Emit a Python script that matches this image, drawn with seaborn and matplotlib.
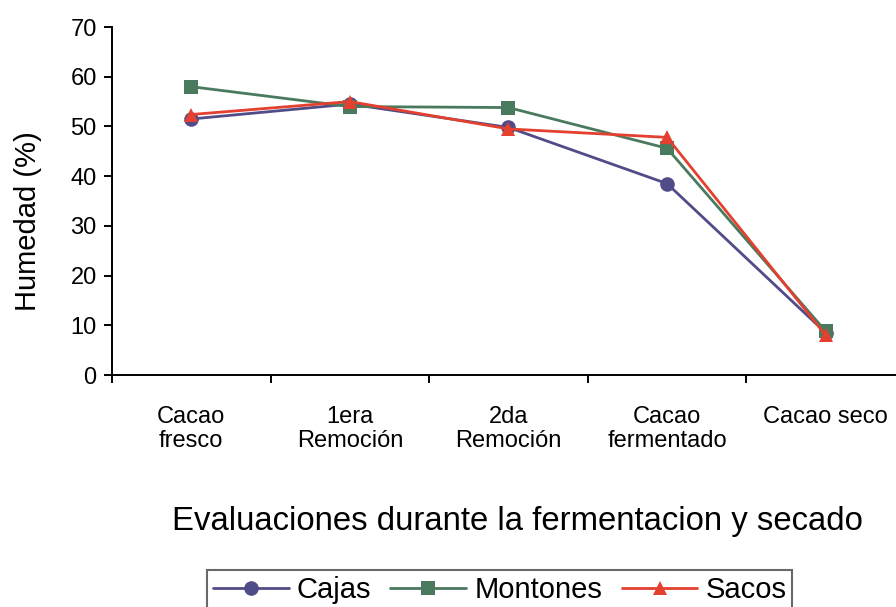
import pandas as pd
import seaborn as sns
import matplotlib.pyplot as plt
from matplotlib.ticker import FixedLocator

etapas = ['Cacao\nfresco', '1era\nRemoción', '2da\nRemoción', 'Cacao\nfermentado', 'Cacao seco']
cajas    = [51.5, 54.5, 49.8, 38.5, 8.5]
montones = [58.0, 54.0, 53.8, 45.6, 8.8]
sacos    = [52.4, 55.0, 49.5, 47.8, 8.0]
series   = ['Cajas', 'Montones', 'Sacos']
colores  = ['#504c88', '#4a7a5e', '#e3402f']

df = pd.DataFrame({
    'etapa': etapas * 3,
    'humedad': cajas + montones + sacos,
    'tratamiento': [s for s in series for _ in etapas],
})

sns.set_style('white')
plt.rcParams['font.family'] = ['Liberation Sans', 'DejaVu Sans']
plt.rcParams['text.color'] = 'black'
plt.rcParams['axes.labelcolor'] = 'black'
plt.rcParams['xtick.color'] = 'black'
plt.rcParams['ytick.color'] = 'black'

fig = plt.figure(figsize=(8.96, 6.07), dpi=100)
ax = fig.add_axes([0.125, 0.3822, 0.885, 0.5733])

sns.lineplot(data=df, x='etapa', y='humedad', hue='tratamiento', style='tratamiento',
             palette=colores, markers=['o', 's', '^'], dashes=False, sort=False,
             linewidth=2, markersize=10.5, markeredgewidth=0, legend=False, ax=ax)

ax.set_xlim(-0.5, 4.5)
ax.set_ylim(0, 70)
ax.set_yticks(range(0, 71, 10))
ax.set_xticks(range(len(etapas)))
ax.set_xticklabels(etapas, fontsize=17, linespacing=1.15)
ax.xaxis.set_minor_locator(FixedLocator([-0.5, 0.5, 1.5, 2.5, 3.5]))
ax.tick_params(axis='x', which='major', length=0, pad=22)
ax.tick_params(axis='x', which='minor', length=6, width=1.4, direction='out', bottom=True)
ax.tick_params(axis='y', length=6, width=1.4, direction='out', left=True, labelsize=17, pad=5)

for s in ['top', 'right']:
    ax.spines[s].set_visible(False)
for s in ['left', 'bottom']:
    ax.spines[s].set_color('black')
    ax.spines[s].set_linewidth(1.4)

ax.set_ylabel('Humedad (%)', fontsize=21)
ax.yaxis.set_label_coords(-0.088, 0.4425)
ax.set_xlabel('')
fig.text(0.577, 0.1405, 'Evaluaciones durante la fermentacion y secado', fontsize=23.7, ha='center', va='center')

leg = fig.legend(ax.lines[:3], series, loc='upper center', bbox_to_anchor=(0.5575, 0.0605),
                 ncol=3, fontsize=21, frameon=True, fancybox=False, handlelength=2.6,
                 handletextpad=0.27, columnspacing=0.67, borderpad=0.2, borderaxespad=0)
leg.get_frame().set_edgecolor('#444444')
leg.get_frame().set_linewidth(1.5)

fig.savefig('out.png', dpi=100)
